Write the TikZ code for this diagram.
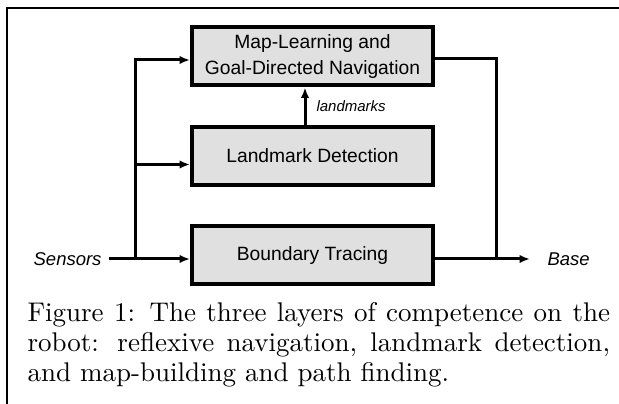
\documentclass[tikz,border=0pt]{standalone}
\usepackage{fontspec}
\newfontfamily\diagfont{Liberation Sans}
\usetikzlibrary{arrows.meta}
\usetikzlibrary{positioning}
\tikzset{
    layer/.style = {rectangle, draw=black, fill=black!12, line width=1.6pt,
        minimum width=96.4pt, minimum height=23.2pt, align=center, inner sep=0pt,
        font=\diagfont\fontsize{7.7}{10.4}\selectfont},% one layer of competence
    wire/.style = {line width=1.2pt},% connector
    io_lbl/.style = {inner sep=0pt, font=\diagfont\itshape\fontsize{7.4}{8}\selectfont},% sensors, base
    cap_row/.style = {anchor=base west, inner sep=0pt, font=\fontsize{10.8}{13}\selectfont},% caption line
}

\begin{document}
\begin{tikzpicture}[x=0.4pt,y=-0.4pt,>={Latex[length=4.2pt,width=3.4pt]},node distance=15pt]
\useasboundingbox (0,0) rectangle (619,404);
% frame
\draw[line width=0.6pt] (619,8) -- (7,8) -- (7,404);
% the three layers
\node [layer] (ml) at (312.5,56.5) {Map-Learning and\\Goal-Directed Navigation};
\node [layer, below=of ml] (ld) {Landmark Detection};
\node [layer, below=of ld] (bt) {Boundary Tracing};
% inputs and outputs
\node [io_lbl, anchor=east, outer sep=3pt] (sensors) at (109,259) {Sensors};
\node [io_lbl, anchor=west, outer sep=7pt] (base) at (530,259) {Base};
\coordinate (fork) at (135,259);
\coordinate (merge) at (496,259);
\draw [wire,->] (sensors) -- (bt.west |- sensors);
\draw [wire,->] (fork) |- ([yshift=-3.4pt]ld.west);
\draw [wire,->] (fork) |- ([yshift=-1.4pt]ml.west);
\draw [wire] ([yshift=-1pt]ml.east) -| (merge);
\draw [wire,->] (bt.east |- base) -- (base);
\draw [wire,->] ([xshift=-3pt]ld.north) -- node[right=3pt, inner sep=1pt,
    font=\diagfont\itshape\fontsize{6}{7}\selectfont] (lmk) {landmarks} ([xshift=-3pt]ml.south);
% caption
\node [cap_row] (cap1) at (27,322) {\makebox[233pt][s]{Figure 1: The three layers of competence on the}};
\node [cap_row] (cap2) at (27,352) {\makebox[233pt][s]{robot: reflexive navigation, landmark detection,}};
\node [cap_row] (cap3) at (27,382) {and map-building and path finding.};
\end{tikzpicture}
\end{document}
